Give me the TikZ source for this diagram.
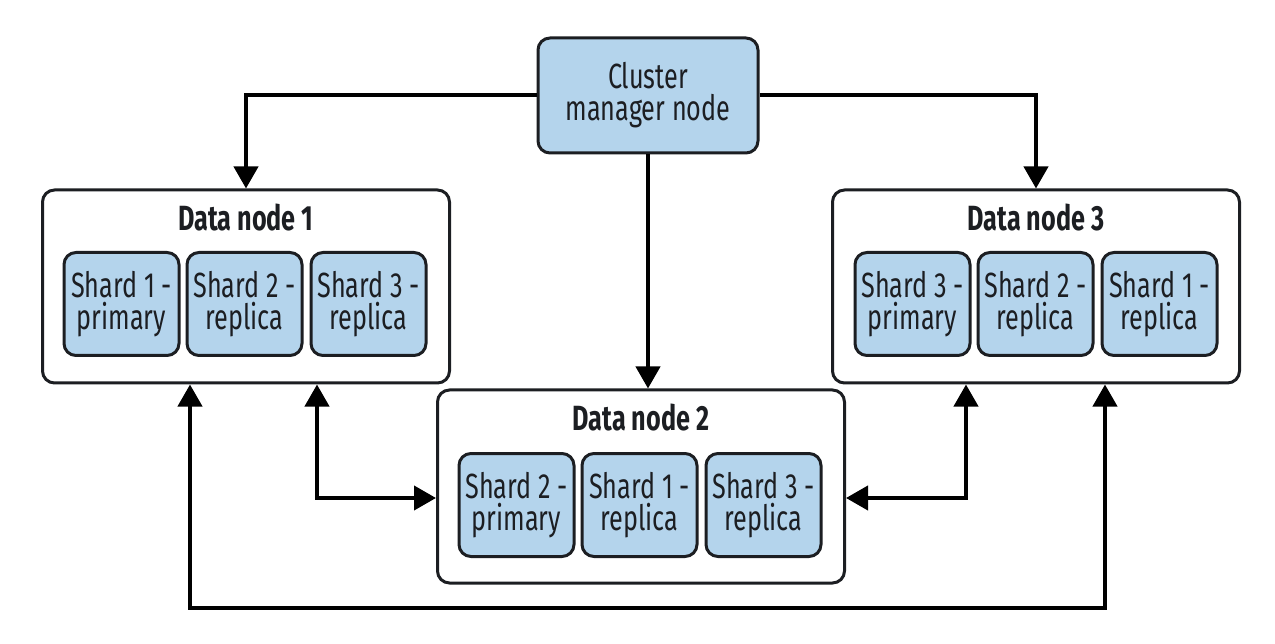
\documentclass[tikz,border=0pt]{standalone}
\usepackage{fontspec}
\setmainfont{Fira Sans}[FakeStretch=0.72]
\usetikzlibrary{arrows.meta}
\definecolor{shardblue}{RGB}{180,212,236}
\definecolor{ink}{RGB}{28,30,34}
\tikzset{
  x=1pt, y=-1pt,
  every node/.style={inner sep=0pt, font=\fontsize{35}{32}\selectfont, text=ink},
  outerbox/.style={draw=ink, line width=3pt, rounded corners=12pt, fill=white, minimum width=407pt, minimum height=193pt},
  bluebox/.style={draw=ink, line width=3pt, rounded corners=12pt, fill=shardblue, align=center},
  shardbox/.style={bluebox, minimum width=115pt, minimum height=103pt},
  titletext/.style={font=\fontsize{35}{32}\selectfont\bfseries, anchor=base},
  conn/.style={draw=black, line width=4pt},
  arr/.style={conn, -{Triangle[length=22pt,width=24pt]}},
  darr/.style={conn, {Triangle[length=22pt,width=24pt]}-{Triangle[length=22pt,width=24pt]}},
}
\begin{document}
\begin{tikzpicture}
\useasboundingbox (0,0) rectangle (1275,644);
% cluster manager
\node[bluebox, minimum width=220pt, minimum height=115pt] (cm) at (648,95.5) {Cluster\\manager node};
% data node boxes
\node[outerbox] (dn1) at (246,286.5) {};
\node[outerbox] (dn3) at (1036,286.5) {};
\node[outerbox] (dn2) at (641,486.5) {};
\node[titletext] (t1) at ([yshift=-42pt]dn1.north) {Data node 1};
\node[titletext] (t3) at ([yshift=-42pt]dn3.north) {Data node 3};
\node[titletext] (t2) at ([yshift=-42pt]dn2.north) {Data node 2};
% shards
\node[shardbox] (s11) at (121.5,304) {Shard 1 -\\primary};
\node[shardbox] (s12) at (244.5,304) {Shard 2 -\\replica};
\node[shardbox] (s13) at (368.5,304) {Shard 3 -\\replica};
\node[shardbox] (s31) at (912.5,304) {Shard 3 -\\primary};
\node[shardbox] (s32) at (1035.5,304) {Shard 2 -\\replica};
\node[shardbox] (s33) at (1159.5,304) {Shard 1 -\\replica};
\node[shardbox] (s21) at (516.5,505) {Shard 2 -\\primary};
\node[shardbox] (s22) at (639.5,505) {Shard 1 -\\replica};
\node[shardbox] (s23) at (763.5,505) {Shard 3 -\\replica};
% connectors
\draw[arr] (cm.west) -| (dn1.north);
\draw[arr] (cm.east) -| (dn3.north);
\draw[arr] (cm.south) -- (cm.south |- dn2.north);
\draw[darr] ([xshift=71pt]dn1.south) |- ([yshift=-11.5pt]dn2.west);
\draw[darr] ([xshift=-70pt]dn3.south) |- ([yshift=-11.5pt]dn2.east);
\coordinate (bl) at (190,608);
\coordinate (br) at (1105,608);
\draw[darr] ([xshift=-56pt]dn1.south) -- (bl) -- (br) -- ([xshift=69pt]dn3.south);
\end{tikzpicture}
\end{document}
